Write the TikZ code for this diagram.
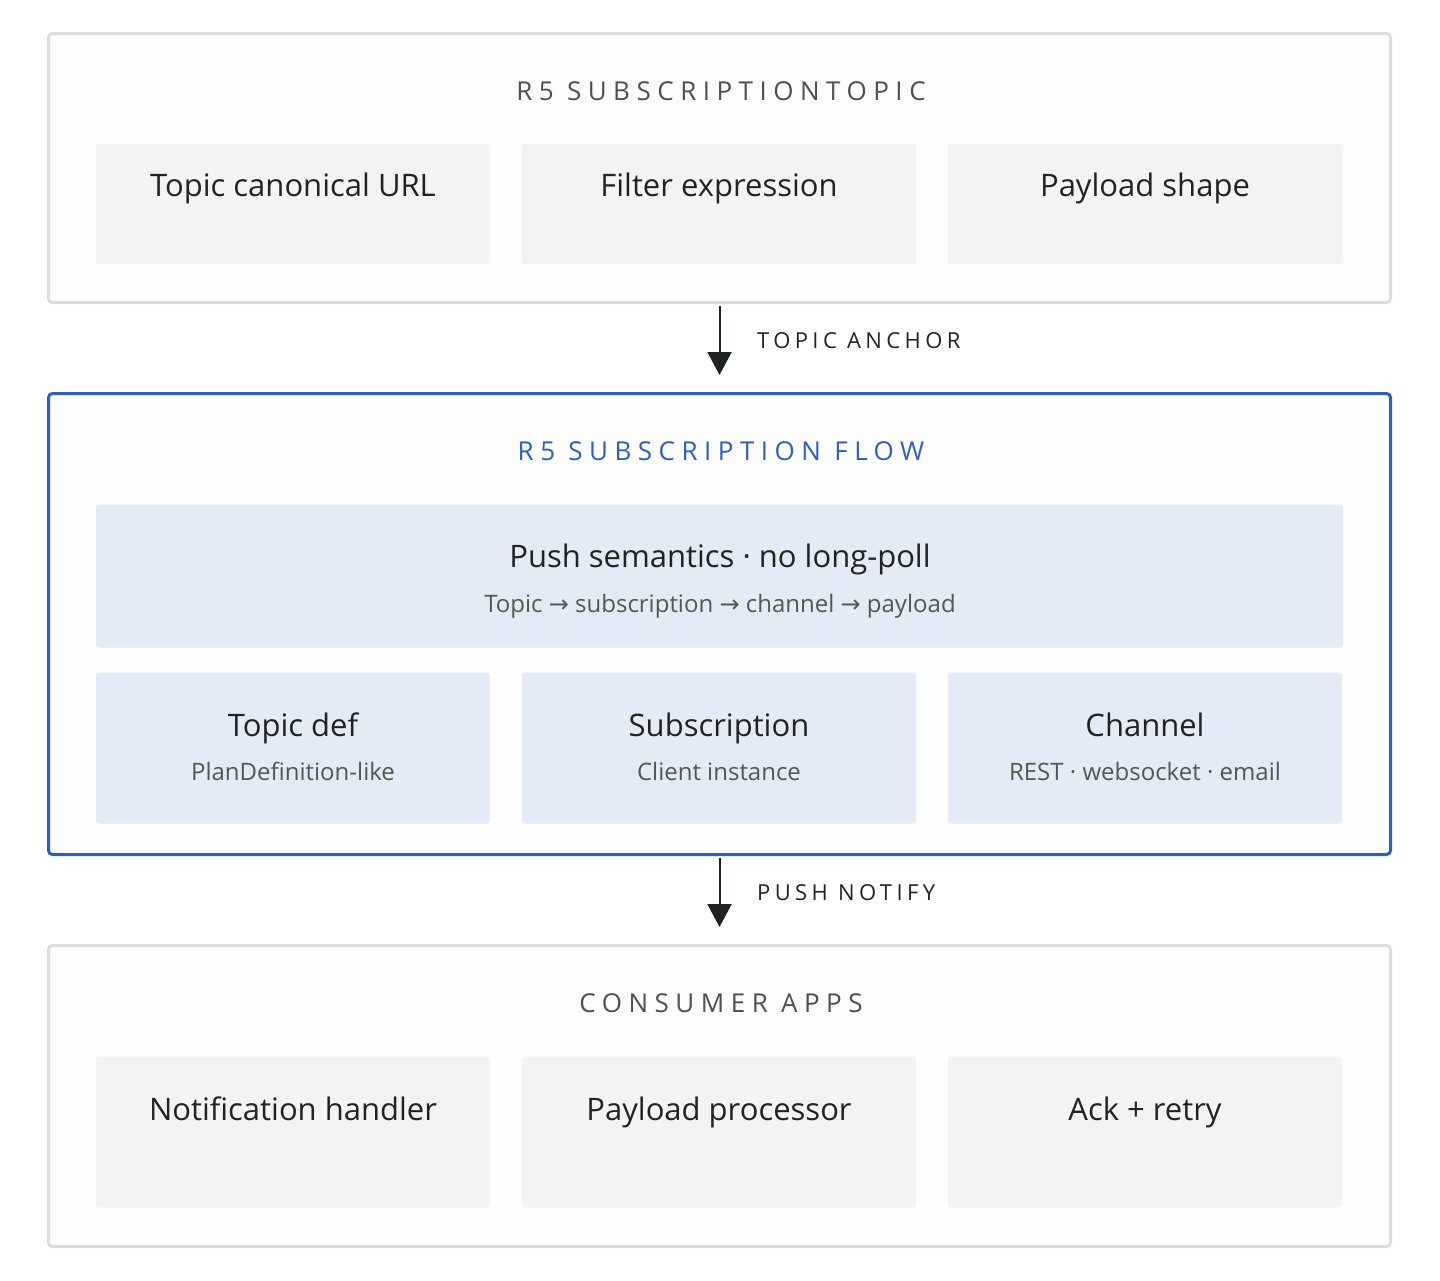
\documentclass[tikz,border=0pt]{standalone}
\usepackage{fontspec}
\setmainfont{Open Sans}
\newfontfamily\arrowfont{DejaVu Sans}
\usetikzlibrary{arrows.meta}
\definecolor{graybd}{HTML}{DCDCDE}
\definecolor{grayfill}{HTML}{F3F3F3}
\definecolor{bluebd}{HTML}{2B5FC4}
\definecolor{bluefill}{HTML}{E4EAF6}
\definecolor{ink}{HTML}{1F2422}
\definecolor{subink}{HTML}{505A52}
\definecolor{titleink}{HTML}{4A524D}
\definecolor{panelfill}{HTML}{FDFDFD}
\newcommand{\ar}{{\arrowfont\fontsize{24}{28}\selectfont →}}
\tikzset{
  panel/.style={draw=graybd, line width=3pt, fill=panelfill, rounded corners=4pt, inner sep=0pt},
  bluepanel/.style={draw=bluebd, line width=3pt, fill=panelfill, rounded corners=4pt, inner sep=0pt},
  cell/.style={fill=grayfill, rounded corners=3pt, inner sep=0pt},
  bluecell/.style={fill=bluefill, rounded corners=3pt, inner sep=0pt},
  ptitle/.style={text=titleink, font=\fontsize{26}{30}\selectfont\addfontfeature{LetterSpace=25}, anchor=base, inner sep=0pt},
  btitle/.style={ptitle, text=bluebd},
  main/.style={text=ink, font=\fontsize{31}{36}\selectfont, anchor=base, inner sep=0pt},
  sub/.style={text=subink, font=\fontsize{24}{28}\selectfont, anchor=base, inner sep=0pt},
  lbl/.style={text=ink, font=\fontsize{22}{26}\selectfont\addfontfeature{LetterSpace=20}, anchor=base west, inner sep=0pt},
  flow/.style={draw=ink, line width=2pt, -{Triangle[width=24pt,length=23pt]}},
}
\begin{document}
\begin{tikzpicture}[x=1pt,y=-1pt]
\useasboundingbox (0,0) rectangle (1440,1280);
% panel 1
\node[panel, minimum width=1342pt, minimum height=269pt] (p1) at (719.5,168) {};
\node[ptitle] (t1) at (721,100.5) {R5 SUBSCRIPTIONTOPIC};
\node[cell, minimum width=394pt, minimum height=120pt] (c11) at (293,204) {};
\node[cell, minimum width=394pt, minimum height=120pt] (c12) at (719,204) {};
\node[cell, minimum width=394pt, minimum height=120pt] (c13) at (1145,204) {};
\node[main] (m11) at (293,196) {Topic canonical URL};
\node[main] (m12) at (719,196) {Filter expression};
\node[main] (m13) at (1145,196) {Payload shape};
% panel 2
\node[bluepanel, minimum width=1342pt, minimum height=461pt] (p2) at (719.5,624) {};
\node[btitle] (t2) at (721,460.5) {R5 SUBSCRIPTION FLOW};
\node[bluecell, minimum width=1247pt, minimum height=143pt] (w) at (719.5,576) {};
\node[main] (wm) at (720,567) {Push semantics · no long-poll};
\node[sub] (ws) at (720,612) {Topic \ar{} subscription \ar{} channel \ar{} payload};
\node[bluecell, minimum width=394pt, minimum height=151pt] (c21) at (293,748) {};
\node[bluecell, minimum width=394pt, minimum height=151pt] (c22) at (719,748) {};
\node[bluecell, minimum width=394pt, minimum height=151pt] (c23) at (1145,748) {};
\node[main] (m21) at (293,736) {Topic def};
\node[main] (m22) at (719,736) {Subscription};
\node[main] (m23) at (1145,736) {Channel};
\node[sub] (s21) at (293,780) {PlanDefinition-like};
\node[sub] (s22) at (719,780) {Client instance};
\node[sub] (s23) at (1145,780) {REST · websocket · email};
% panel 3
\node[panel, minimum width=1342pt, minimum height=301pt] (p3) at (719.5,1096) {};
\node[ptitle] (t3) at (721,1012.5) {CONSUMER APPS};
\node[cell, minimum width=394pt, minimum height=151pt] (c31) at (293,1132) {};
\node[cell, minimum width=394pt, minimum height=151pt] (c32) at (719,1132) {};
\node[cell, minimum width=394pt, minimum height=151pt] (c33) at (1145,1132) {};
\node[main] (m31) at (293,1120) {Notification handler};
\node[main] (m32) at (719,1120) {Payload processor};
\node[main] (m33) at (1145,1120) {Ack + retry};
% connectors
\draw[flow, shorten <=1.5pt, shorten >=17pt] (p1.south) -- (p2.north);
\node[lbl] (l1) at (757,348.5) {TOPIC ANCHOR};
\draw[flow, shorten <=1.5pt, shorten >=17pt] (p2.south) -- (p3.north);
\node[lbl] (l2) at (757,900.5) {PUSH NOTIFY};
\end{tikzpicture}
\end{document}
